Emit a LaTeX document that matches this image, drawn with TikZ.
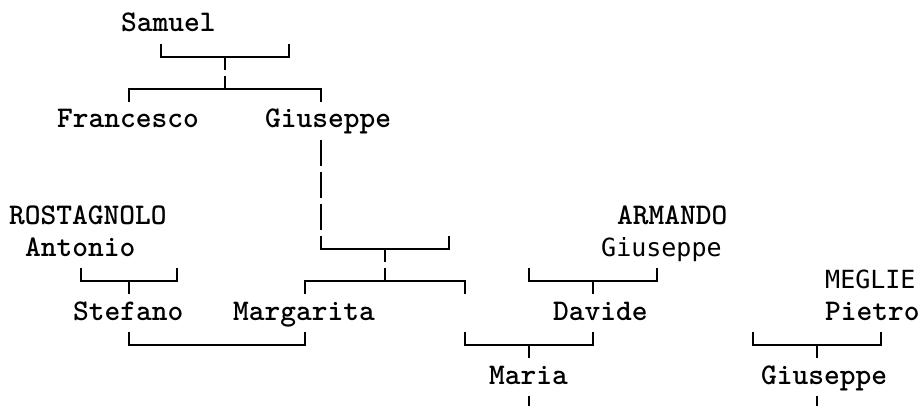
\documentclass[tikz,border=0pt]{standalone}
\usepackage{fontspec}
\newfontfamily\FTsansmono{DejaVu Sans Mono}
\tikzset{
  nm/.style={anchor=base west, inner sep=0pt, font=\fontsize{30}{30}\selectfont\ttfamily\bfseries},
  nmsans/.style={anchor=base west, inner sep=0pt, font=\fontsize{25}{25}\selectfont\FTsansmono},
  ln/.style={line width=1.8pt, line cap=butt, line join=miter}
}
% bracket pieces on the character grid: #1 = row, #2/#3 = columns
\newcommand\FTcup[3]{\draw[ln] (#2+.5,#1+.05) |- (#3+.5,#1+.47) -- (#3+.5,#1+.05);}
\newcommand\FTcap[3]{\draw[ln] (#2+.5,#1+.86) |- (#3+.5,#1+.47) -- (#3+.5,#1+.86);}
\newcommand\FTdown[2]{\draw[ln] (#2+.5,#1+.47) -- (#2+.5,#1+.86);}
\newcommand\FTup[2]{\draw[ln] (#2+.5,#1+.05) -- (#2+.5,#1+.47);}
\newcommand\FTbar[2]{\draw[ln] (#2+.5,#1+.05) -- (#2+.5,#1+.86);}
\begin{document}
\begin{tikzpicture}[x=16pt, y=-32pt]
\useasboundingbox (-0.5625,-0.3125) rectangle (57.125,12.375);
% names
\node[nm] (samuel) at (7,0.6875) {Samuel};
\node[nm] (francesco) at (3,3.6875) {Francesco};
\node[nm] (giuseppe1) at (16,3.6875) {Giuseppe};
\node[nm] (rostagnolo) at (0,6.6875) {ROSTAGNOLO};
\node[nm] (armando) at (38,6.6875) {ARMANDO};
\node[nm] (antonio) at (1,7.6875) {Antonio};
\node[nmsans] (giuseppe2) at (37,7.6875) {Giuseppe};
\node[nmsans] (meglie) at (51,8.6875) {MEGLIE};
\node[nm] (stefano) at (4,9.6875) {Stefano};
\node[nm] (margarita) at (14,9.6875) {Margarita};
\node[nm] (davide) at (34,9.6875) {Davide};
\node[nm] (pietro) at (51,9.6875) {Pietro};
\node[nm] (maria) at (30,11.6875) {Maria};
\node[nm] (giuseppe3) at (47,11.6875) {Giuseppe};
% row 1-2: Samuel -> Francesco, Giuseppe
\FTcup{1}{9}{17} \FTdown{1}{13}
\FTcap{2}{7}{19} \FTup{2}{13}
% Giuseppe down
\FTbar{4}{19} \FTbar{5}{19} \FTbar{6}{19}
\FTcup{7}{19}{27} \FTdown{7}{23}
% row 8
\FTcup{8}{4}{10} \FTdown{8}{7}
\FTcap{8}{18}{28} \FTup{8}{23}
\FTcup{8}{32}{40} \FTdown{8}{36}
% row 10
\FTcup{10}{7}{18}
\FTcup{10}{28}{36} \FTdown{10}{32}
\FTcup{10}{46}{54} \FTdown{10}{50}
% row 12
\draw[ln] (32.5,12.05) -- (32.5,12.4);
\draw[ln] (50.5,12.05) -- (50.5,12.4);
\end{tikzpicture}
\end{document}
